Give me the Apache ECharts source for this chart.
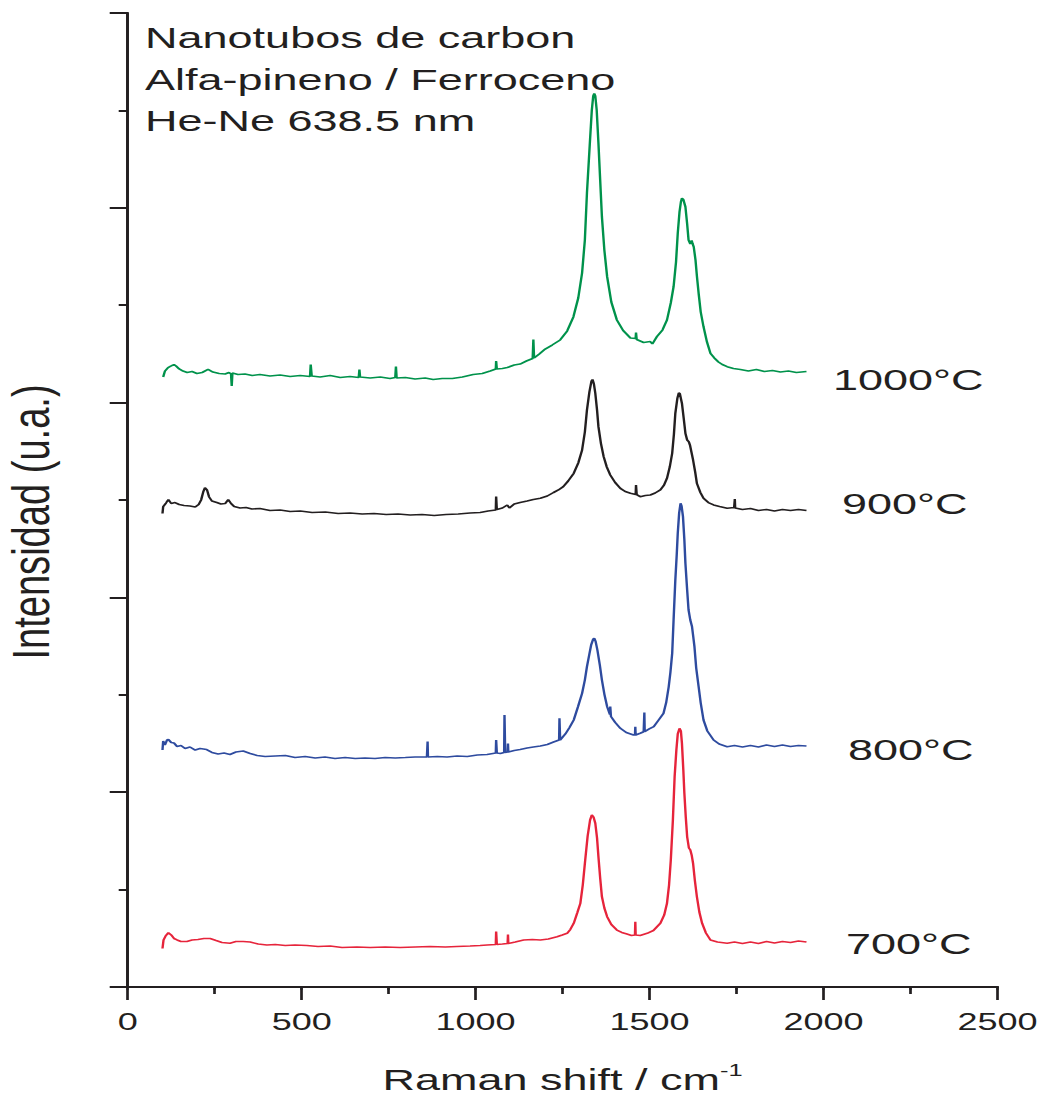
<!DOCTYPE html>
<html>
<head>
<meta charset="utf-8">
<script src="https://cdn.jsdelivr.net/npm/echarts@6/dist/echarts.min.js"></script>
<style>
  html, body { margin: 0; padding: 0; background: #ffffff; overflow: hidden; }
  #wrap { width: 1042px; height: 1099px; overflow: hidden; }
  /* the figure is laid out narrow and widened horizontally, like the printed plate */
  #chart { width: 694.67px; height: 1099px; transform: scaleX(1.5); transform-origin: 0 0; }
</style>
</head>
<body>
<div id="wrap"><div id="chart"></div></div>
<script>
// Raman spectra of carbon nanotubes grown at four temperatures (offset vertically)
const xTicks = [0, 500, 1000, 1500, 2000, 2500];
const seriesNames = ['700°C', '800°C', '900°C', '1000°C'];
const seriesColors = ['#e6243b', '#2e4b9f', '#231f20', '#00924b'];
const titleLines = ['Nanotubos de carbon', 'Alfa-pineno / Ferroceno', 'He-Ne 638.5 nm'];

// [Raman shift (cm-1), intensity (a.u., offset)]
const spec1000 = [
  [102,626.3],[107,632.4],[116,636.0],[125,637.6],[133,639.1],[139,637.6],[148,634.5],[159,632.4],
  [171,630.9],[185,631.9],[199,629.9],[214,630.9],[231,634.0],[245,631.4],[263,629.9],[280,629.4],
  [291,630.9],[297,629.4],[299,617.0],[301,630.4],[317,628.9],[337,629.4],[358,627.8],[380,628.9],
  [409,627.3],[438,628.3],[467,626.8],[496,627.8],[524,626.8],[526,639.1],[529,627.3],[553,626.3],
  [582,627.8],[611,625.8],[639,626.8],[664,625.8],[666,634.0],[668,626.3],[697,625.3],[726,626.3],
  [754,624.7],[769,625.8],[771,637.1],[773,625.3],[798,625.8],[826,624.2],[855,625.3],[878,623.7],
  [904,624.7],[933,624.7],[962,626.3],[993,628.9],[1019,629.9],[1042,632.4],[1058,634.5],[1059,642.7],
  [1061,634.5],[1077,635.0],[1091,636.0],[1111,638.6],[1128,639.6],[1146,642.7],[1164,645.3],[1166,664.8],
  [1168,645.8],[1183,649.9],[1200,655.0],[1220,659.1],[1243,664.3],[1263,673.5],[1281,687.9],[1295,707.4],
  [1306,733.1],[1314,766.9],[1320,815.2],[1328,864.5],[1334,900.4],[1338,914.8],[1341,917.4],[1344,914.8],
  [1348,900.4],[1353,866.5],[1358,828.5],[1363,790.9],[1370,756.7],[1378,729.3],[1390,703.3],[1406,684.8],
  [1424,674.0],[1445,666.3],[1460,665.8],[1461,672.0],[1463,664.8],[1483,661.7],[1502,662.7],[1508,660.2],
  [1521,667.7],[1537,674.5],[1550,684.8],[1561,702.3],[1569,719.0],[1576,744.4],[1581,773.8],[1586,795.7],
  [1590,806.0],[1593,809.8],[1597,808.5],[1603,801.1],[1608,783.4],[1612,766.9],[1617,762.8],[1621,766.4],
  [1624,762.8],[1627,759.8],[1632,746.4],[1636,730.0],[1641,712.2],[1647,693.0],[1655,677.9],[1665,662.2],
  [1675,650.6],[1686,645.8],[1698,641.7],[1709,639.1],[1723,636.9],[1741,635.0],[1761,634.0],[1784,632.4],
  [1807,634.0],[1830,631.9],[1853,633.0],[1876,631.4],[1899,632.4],[1922,630.9],[1951,631.9]
];

const spec900 = [
  [100,486.1],[102,493.3],[110,496.9],[117,500.5],[125,496.4],[136,497.4],[148,495.4],[162,494.4],
  [179,493.8],[194,492.8],[204,495.4],[211,500.0],[217,508.2],[222,512.6],[228,510.3],[234,503.1],
  [242,499.0],[256,497.4],[268,495.9],[280,496.4],[289,500.5],[297,496.4],[306,493.3],[323,491.8],
  [340,492.3],[357,490.8],[380,491.3],[409,489.2],[438,489.7],[467,488.2],[496,488.7],[530,487.2],
  [568,487.7],[605,486.1],[639,486.7],[674,485.6],[708,486.1],[743,485.1],[777,485.6],[812,484.6],
  [846,485.1],[881,484.1],[915,485.1],[950,485.6],[984,486.7],[1013,487.2],[1036,488.7],[1058,489.7],
  [1059,503.6],[1061,490.3],[1077,491.8],[1091,494.9],[1097,491.8],[1111,495.9],[1128,497.4],[1148,499.0],
  [1166,500.5],[1186,501.8],[1206,504.1],[1224,507.7],[1238,510.3],[1252,513.7],[1266,519.5],[1282,527.4],
  [1295,538.0],[1306,551.3],[1314,569.8],[1320,592.4],[1327,610.9],[1333,622.2],[1336,623.7],[1340,619.1],
  [1344,609.6],[1349,592.4],[1353,575.3],[1360,558.5],[1368,544.5],[1377,533.9],[1387,525.7],[1401,518.0],
  [1416,512.0],[1430,508.7],[1445,506.9],[1460,505.6],[1461,515.4],[1463,505.6],[1473,503.4],[1488,504.6],
  [1502,505.1],[1516,507.2],[1531,510.3],[1541,514.9],[1550,522.3],[1558,533.9],[1565,548.0],[1570,567.8],
  [1574,589.0],[1580,604.7],[1584,609.9],[1587,609.3],[1593,599.3],[1598,584.2],[1603,568.5],[1608,561.6],
  [1613,559.6],[1616,556.5],[1625,541.1],[1631,528.8],[1636,517.1],[1646,507.7],[1655,501.8],[1669,497.4],
  [1684,494.9],[1701,493.3],[1723,491.5],[1743,492.3],[1745,501.0],[1746,491.8],[1767,490.3],[1790,491.3],
  [1813,489.2],[1836,490.3],[1859,488.7],[1882,490.3],[1905,489.2],[1928,490.3],[1951,489.2]
];

const spec800 = [
  [100,243.3],[102,252.6],[107,248.5],[113,253.6],[117,254.1],[125,251.0],[133,250.5],[142,246.9],
  [153,247.9],[165,244.9],[179,246.4],[194,243.3],[208,244.9],[227,243.8],[242,240.8],[260,239.2],
  [277,240.2],[294,238.7],[311,241.3],[332,242.3],[352,239.7],[372,237.7],[395,236.7],[424,237.2],
  [453,237.7],[481,235.6],[510,236.7],[539,235.1],[567,236.1],[596,234.6],[625,235.6],[654,234.6],
  [682,235.1],[711,234.6],[740,235.6],[769,235.1],[798,235.6],[826,236.1],[860,236.1],[862,252.1],
  [863,236.1],[890,236.7],[918,236.1],[947,237.2],[976,236.7],[1005,238.2],[1033,238.7],[1058,240.2],
  [1059,253.6],[1061,240.2],[1071,239.7],[1082,240.8],[1083,279.3],[1085,240.8],[1092,241.3],[1093,250.0],
  [1094,241.3],[1111,242.8],[1128,243.8],[1148,245.4],[1166,246.4],[1186,247.4],[1206,249.0],[1224,251.5],
  [1240,253.6],[1241,275.9],[1243,253.6],[1258,259.8],[1269,265.9],[1282,274.1],[1294,287.5],[1306,301.5],
  [1314,315.2],[1320,328.9],[1327,341.9],[1332,351.1],[1338,357.3],[1341,358.0],[1345,354.7],[1350,346.0],
  [1357,330.6],[1363,315.2],[1370,300.8],[1378,287.8],[1386,279.8],[1387,288.0],[1389,277.7],[1401,271.6],
  [1416,265.6],[1433,261.3],[1454,258.7],[1458,258.7],[1459,267.3],[1460,258.7],[1473,260.5],[1483,262.1],
  [1485,281.8],[1486,262.3],[1499,264.9],[1512,267.3],[1525,273.6],[1540,281.0],[1548,292.6],[1555,308.3],
  [1560,323.4],[1565,342.6],[1569,376.8],[1574,417.9],[1578,443.5],[1581,465.8],[1585,486.7],[1589,496.6],
  [1592,493.8],[1596,482.9],[1600,458.9],[1603,435.0],[1608,407.6],[1612,387.1],[1617,376.8],[1622,369.9],
  [1626,358.3],[1629,349.4],[1634,327.5],[1641,308.3],[1647,291.6],[1655,274.1],[1666,262.8],[1684,253.6],
  [1700,249.5],[1723,246.7],[1744,247.9],[1767,246.4],[1790,247.9],[1813,246.4],[1836,248.5],[1859,246.9],
  [1882,248.5],[1905,246.9],[1928,247.9],[1951,247.4]
];

const spec700 = [
  [100,39.5],[103,48.3],[109,52.4],[117,55.7],[125,53.4],[133,49.8],[142,48.3],[153,46.7],
  [170,46.7],[185,48.3],[202,48.8],[219,49.8],[237,49.8],[254,47.7],[271,45.7],[294,44.9],
  [311,46.7],[332,46.7],[352,46.2],[375,44.1],[400,43.1],[424,43.6],[453,42.6],[481,43.1],
  [515,42.6],[547,41.6],[582,42.1],[616,40.6],[659,41.1],[697,40.6],[740,41.1],[783,40.6],
  [826,41.1],[869,41.6],[913,41.1],[946,41.6],[984,42.1],[1013,42.6],[1033,43.1],[1058,43.6],
  [1059,57.0],[1061,43.6],[1077,44.1],[1092,44.7],[1093,53.9],[1094,44.7],[1114,46.2],[1138,48.3],
  [1163,48.8],[1186,48.3],[1209,49.3],[1234,51.6],[1249,53.4],[1263,55.1],[1272,59.0],[1282,65.4],
  [1292,76.0],[1301,85.9],[1308,104.7],[1315,130.4],[1322,155.0],[1329,171.5],[1334,176.6],[1339,174.5],
  [1344,168.1],[1349,153.0],[1353,133.8],[1358,111.9],[1363,92.7],[1370,81.1],[1378,72.2],[1390,64.2],
  [1406,58.5],[1420,56.0],[1435,54.4],[1448,52.9],[1458,53.4],[1459,67.0],[1460,53.4],[1473,52.9],
  [1493,55.1],[1511,58.0],[1531,65.4],[1542,73.9],[1550,85.9],[1556,104.7],[1561,130.4],[1567,171.5],
  [1572,215.9],[1577,243.3],[1581,259.8],[1586,265.6],[1590,262.8],[1593,250.2],[1597,222.8],[1600,198.9],
  [1604,174.5],[1608,154.3],[1613,142.7],[1617,140.7],[1621,135.5],[1625,127.0],[1630,109.9],[1636,92.7],
  [1643,77.0],[1651,65.4],[1662,55.4],[1675,48.3],[1695,46.2],[1723,44.9],[1744,46.2],[1767,44.7],
  [1790,46.2],[1813,44.7],[1836,46.7],[1859,45.2],[1882,46.7],[1905,45.7],[1928,47.2],[1951,46.2]
];

const spectra = [spec700, spec800, spec900, spec1000];

const ink = '#231f20';
const font = '"Liberation Sans", Arial, Helvetica, sans-serif';

const chart = echarts.init(document.getElementById('chart'), null, { renderer: 'svg' });

const graphics = [];
// header block, top left inside the frame
const titleY = [37, 79.5, 120];
titleLines.forEach((t, i) => {
  graphics.push({
    type: 'text', x: 96.7, y: titleY[i], silent: true,
    style: { text: t, fill: ink, fontSize: 30, fontFamily: font, align: 'left', verticalAlign: 'middle' }
  });
});
// temperature tag next to the right end of each trace
const tagPos = [[564, 943], [565.3, 749], [561.3, 503], [555.3, 379]];
seriesNames.forEach((n, i) => {
  graphics.push({
    type: 'text', x: tagPos[i][0], y: tagPos[i][1], silent: true,
    style: { text: n, fill: ink, fontSize: 30, fontFamily: font, align: 'left', verticalAlign: 'middle' }
  });
});
// vertical axis title (slightly elongated along its reading direction)
graphics.push({
  type: 'text', x: 20.7, y: 522, rotation: Math.PI / 2, scaleX: 1.12, silent: true,
  style: { text: 'Intensidad (u.a.)', fill: ink, fontSize: 34, fontFamily: font, align: 'center', verticalAlign: 'middle' }
});

const axisLineStyle = { color: ink, width: 2 };

chart.setOption({
  animation: false,
  backgroundColor: '#ffffff',
  grid: { left: 85.13, right: 30, top: 13, bottom: 112, containLabel: false },
  xAxis: [
    {
      type: 'value', min: 0, max: 2500, interval: 500, position: 'bottom',
      axisLine: { show: true, lineStyle: axisLineStyle },
      axisTick: { show: true, length: 13, lineStyle: { color: ink, width: 1.8 } },
      minorTick: { show: true, splitNumber: 2, length: 7, lineStyle: { color: ink, width: 1.8 } },
      splitLine: { show: false },
      axisLabel: {
        show: true, color: ink, fontSize: 24, fontFamily: font, margin: 22,
        formatter: v => (xTicks.indexOf(v) >= 0 ? String(v) : '')
      },
      name: '{a|Raman shift / cm}{b|-1}',
      nameLocation: 'middle', nameGap: 75,
      nameTextStyle: {
        color: ink, fontFamily: font,
        rich: {
          a: { fontSize: 30, fontFamily: font, color: ink, lineHeight: 34 },
          b: { fontSize: 17, fontFamily: font, color: ink, lineHeight: 34, verticalAlign: 'top' }
        }
      }
    },
    {
      type: 'value', min: 0, max: 2500, interval: 500, position: 'top',
      axisLine: { show: true, lineStyle: axisLineStyle },
      axisTick: { show: true, inside: true, length: 3, lineStyle: { color: ink, width: 1.5 } },
      minorTick: { show: true, splitNumber: 2, length: 3, lineStyle: { color: ink, width: 1.5 } },
      axisLabel: { show: false }, splitLine: { show: false }
    }
  ],
  yAxis: [
    {
      type: 'value', min: 0, max: 1000, interval: 200, position: 'left',
      axisLine: { show: true, lineStyle: { color: ink, width: 1.8 } },
      axisTick: { show: true, length: 12, lineStyle: { color: ink, width: 2 } },
      minorTick: { show: true, splitNumber: 2, length: 6, lineStyle: { color: ink, width: 2 } },
      axisLabel: { show: false }, splitLine: { show: false }
    },
    {
      type: 'value', min: 0, max: 1000, interval: 200, position: 'right',
      axisLine: { show: true, lineStyle: { color: ink, width: 1.8 } },
      axisTick: { show: false }, axisLabel: { show: false }, splitLine: { show: false }
    }
  ],
  series: spectra.map((d, i) => ({
    name: seriesNames[i], type: 'line', data: d,
    xAxisIndex: 0, yAxisIndex: 0,
    showSymbol: false, symbol: 'none', smooth: false,
    lineStyle: { color: seriesColors[i], width: 1.6 },
    itemStyle: { color: seriesColors[i] },
    emphasis: { disabled: true }, silent: true
  })),
  graphic: graphics
});
</script>
</body>
</html>
